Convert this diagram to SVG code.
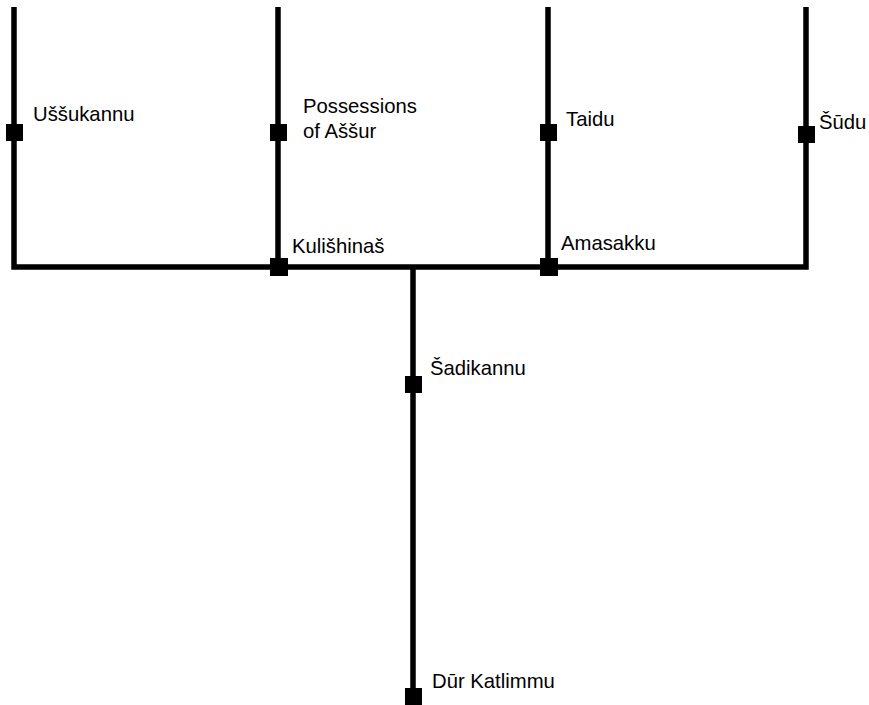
<svg xmlns="http://www.w3.org/2000/svg" width="869" height="705" viewBox="0 0 869 705">
<style>
.ln{stroke:#000;stroke-width:5.5;fill:none}
.st{fill:#000}
text{font-family:"Liberation Sans",Arial,sans-serif;font-size:20.3px;fill:#000}
</style>
<rect width="869" height="705" fill="#fff"/>
<g id="connectors">
<path class="ln" d="M14,7V267H806V7M278,7V267M548,7V267M413,267V705"/>
</g>
<g id="n-ussukannu"><rect class="st" x="6" y="124" width="17" height="17"/><text x="33" y="121">Uššukannu</text></g>
<g id="n-possessions"><rect class="st" x="270" y="124" width="17" height="17"/><text x="303" y="113">Possessions</text><text x="303" y="138">of Aššur</text></g>
<g id="n-taidu"><rect class="st" x="540" y="124" width="17" height="17"/><text x="566" y="126">Taidu</text></g>
<g id="n-sudu"><rect class="st" x="798" y="126" width="17" height="17"/><text x="819" y="129">Šūdu</text></g>
<g id="n-kulishinas"><rect class="st" x="270" y="258" width="18" height="18"/><text x="292" y="253">Kulišhinaš</text></g>
<g id="n-amasakku"><rect class="st" x="540" y="258" width="18" height="18"/><text x="561" y="250">Amasakku</text></g>
<g id="n-sadikannu"><rect class="st" x="405" y="376" width="17" height="17"/><text x="430" y="375">Šadikannu</text></g>
<g id="n-durkatlimmu"><rect class="st" x="405" y="688" width="17" height="17"/><text x="432" y="688">Dūr Katlimmu</text></g>
</svg>
